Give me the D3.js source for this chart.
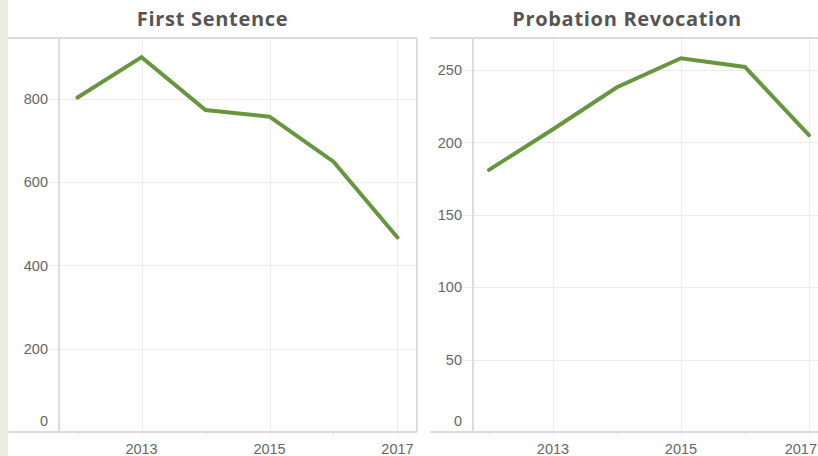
<!DOCTYPE html>
<html>
<head>
<meta charset="utf-8">
<script src="https://cdn.jsdelivr.net/npm/d3@7"></script>
<style>
  html, body { margin: 0; padding: 0; background: #ffffff; overflow: hidden; }
  svg { display: block; }
</style>
</head>
<body>
<svg id="chart" width="818" height="456"></svg>
<script>
// ---- Data ----
const years = [2012, 2013, 2014, 2015, 2016, 2017];
const firstSentence = [803, 900, 773, 757, 649, 467];
const probationRevocation = [181, 209, 238, 258, 252, 205];
const firstTicks = [0, 200, 400, 600, 800];
const probationTicks = [0, 50, 100, 150, 200, 250];
const yearTicks = [2013, 2015, 2017];
const minorYearTicks = [2012, 2014, 2016];
const titles = ["First Sentence", "Probation Revocation"];

// ---- Layout ----
const W = 818;
const svg = d3.select("#chart");
svg.append("rect").attr("x", 0).attr("y", 0).attr("width", 8).attr("height", 456).attr("fill", "#efede3");

const lineColor = "#67963f";
const gridColor = "#ececec";
const axisColor = "#dcdcdc";
const labelColor = "#666666";

const panels = [
  { title: titles[0], values: firstSentence, ticks: firstTicks, yMax: 946,
    left: 8, axisX: 59, right: 417, xDomain: [2011.71, 2017.305] },
  { title: titles[1], values: probationRevocation, ticks: probationTicks, yMax: 272,
    left: 430, axisX: 473, right: 831, xDomain: [2011.75, 2017.345] }
];

const plotTop = 38, plotBottom = 432;

panels.forEach(p => {
  const g = svg.append("g");
  const x = d3.scaleLinear().domain(p.xDomain).range([p.axisX, p.right]);
  const y = d3.scaleLinear().domain([0, p.yMax]).range([plotBottom, plotTop]);

  // horizontal gridlines
  g.selectAll("line.hgrid").data(p.ticks.filter(t => t > 0)).enter().append("line")
    .attr("x1", p.axisX - 10).attr("x2", p.right)
    .attr("y1", d => Math.round(y(d)) + 0.5).attr("y2", d => Math.round(y(d)) + 0.5)
    .attr("stroke", gridColor).attr("stroke-width", 1);

  // vertical gridlines
  g.selectAll("line.vgrid").data(yearTicks).enter().append("line")
    .attr("x1", d => Math.round(x(d)) + 0.5).attr("x2", d => Math.round(x(d)) + 0.5)
    .attr("y1", plotTop).attr("y2", plotBottom + 4)
    .attr("stroke", gridColor).attr("stroke-width", 1);

  // minor x ticks
  g.selectAll("line.minor").data(minorYearTicks).enter().append("line")
    .attr("x1", d => Math.round(x(d)) + 0.5).attr("x2", d => Math.round(x(d)) + 0.5)
    .attr("y1", plotBottom).attr("y2", plotBottom + 3)
    .attr("stroke", axisColor).attr("stroke-width", 1);

  // borders
  g.append("line").attr("x1", p.left).attr("x2", p.right).attr("y1", plotTop).attr("y2", plotTop)
    .attr("stroke", axisColor).attr("stroke-width", 2);
  g.append("line").attr("x1", p.left).attr("x2", p.right).attr("y1", plotBottom).attr("y2", plotBottom)
    .attr("stroke", axisColor).attr("stroke-width", 2);
  g.append("line").attr("x1", p.axisX).attr("x2", p.axisX).attr("y1", plotTop).attr("y2", plotBottom)
    .attr("stroke", axisColor).attr("stroke-width", 2);
  g.append("line").attr("x1", p.right).attr("x2", p.right).attr("y1", plotTop).attr("y2", plotBottom)
    .attr("stroke", axisColor).attr("stroke-width", 2);

  // y labels
  g.selectAll("text.ylab").data(p.ticks).enter().append("text")
    .attr("x", p.axisX - 11)
    .attr("y", d => d === 0 ? y(d) - 11 : y(d))
    .attr("dy", "0.36em")
    .attr("text-anchor", "end")
    .attr("font-family", "'Liberation Sans', Arial, sans-serif")
    .attr("font-size", 14.5)
    .attr("fill", labelColor)
    .text(d => d);

  // x labels (kept inside the window edge)
  g.selectAll("text.xlab").data(yearTicks).enter().append("text")
    .attr("x", d => x(d) + 16 > W ? W - 1 : x(d))
    .attr("y", 454)
    .attr("text-anchor", d => x(d) + 16 > W ? "end" : "middle")
    .attr("font-family", "'Liberation Sans', Arial, sans-serif")
    .attr("font-size", 14.5)
    .attr("fill", labelColor)
    .text(d => d);

  // line
  const line = d3.line().x((d, i) => x(years[i])).y(d => y(d));
  g.append("path").datum(p.values)
    .attr("d", line)
    .attr("fill", "none")
    .attr("stroke", lineColor)
    .attr("stroke-width", 4)
    .attr("stroke-linejoin", "miter")
    .attr("stroke-linecap", "round");

  // title
  g.append("text")
    .attr("x", p === panels[0] ? (p.left + p.right) / 2 : 627)
    .attr("y", 26)
    .attr("text-anchor", "middle")
    .attr("font-family", "'Open Sans', sans-serif")
    .attr("font-weight", "bold")
    .attr("font-size", 20)
    .attr("letter-spacing", 0.7)
    .attr("fill", "#555555")
    .text(p.title);
});
</script>
</body>
</html>
